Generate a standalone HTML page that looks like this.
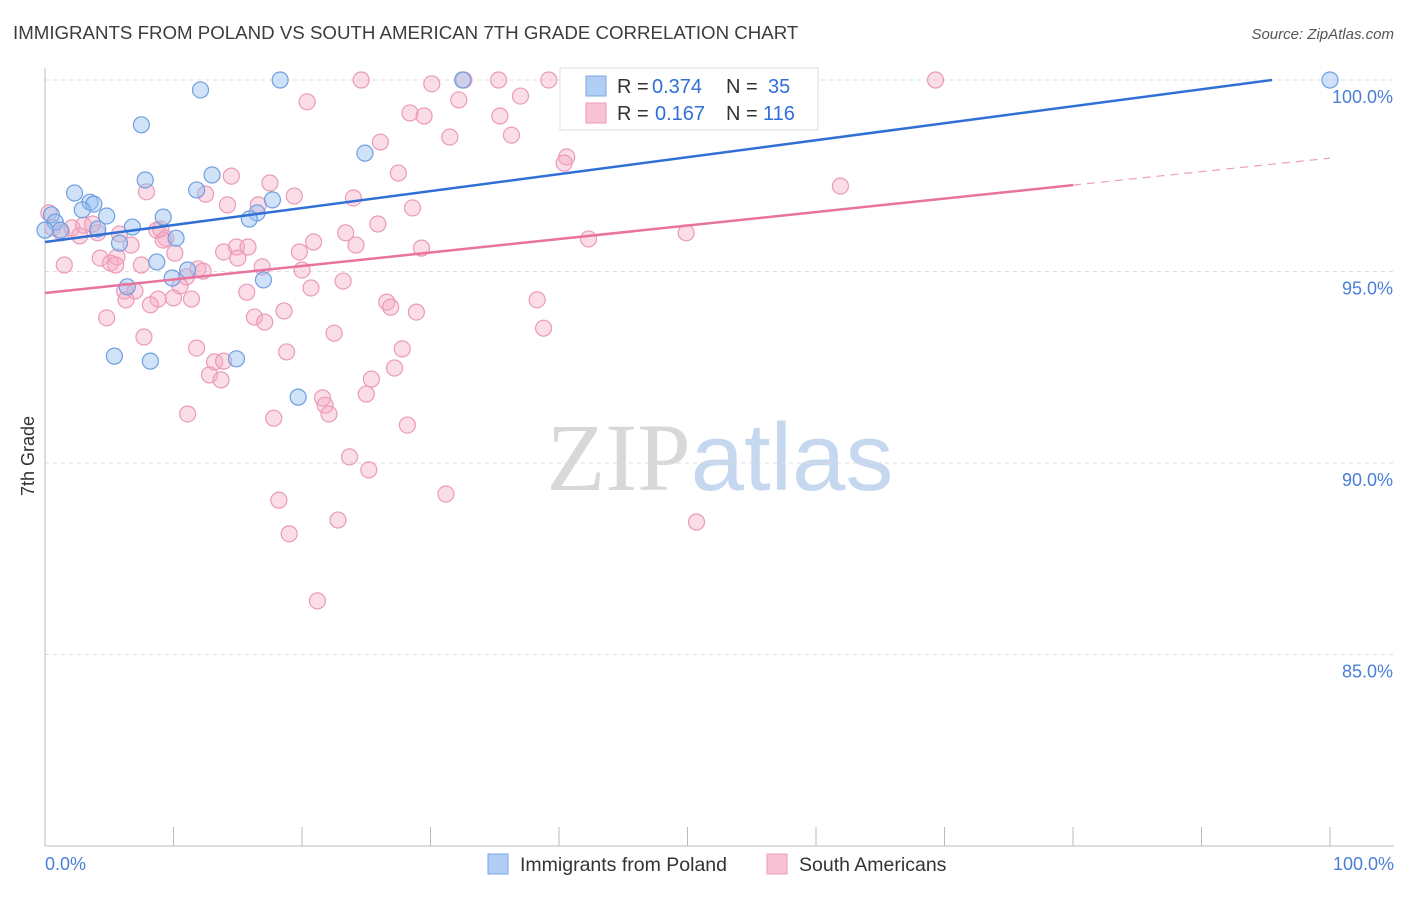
<!DOCTYPE html>
<html><head><meta charset="utf-8">
<style>
body{margin:0;background:#fff;font-family:"Liberation Sans",sans-serif;}
svg text{font-family:"Liberation Sans",sans-serif;}
</style></head>
<body>
<svg id="chart" width="1406" height="892" xmlns="http://www.w3.org/2000/svg">
<text x="13" y="39" font-size="18.7" fill="#3c3c3c">IMMIGRANTS FROM POLAND VS SOUTH AMERICAN 7TH GRADE CORRELATION CHART</text>
<text x="1394" y="39" font-size="15" fill="#555" text-anchor="end" font-style="italic">Source: ZipAtlas.com</text>
<text x="720" y="490" font-size="96" text-anchor="middle"><tspan fill="#d8d8d8" font-family="Liberation Serif">ZIP</tspan><tspan fill="#c5d8f0">atlas</tspan></text>
<g id="grid"></g>
<g id="axes"></g>
<g id="pts"></g>
<g id="lines"></g>
<text transform="translate(34,456) rotate(-90)" font-size="18" fill="#333" text-anchor="middle">7th Grade</text>
<g font-size="20">
<rect x="560" y="68" width="258" height="62" fill="#fff" stroke="#ddd"/>
<rect x="586" y="76" width="20" height="20" fill="#b0cdf3" stroke="#7aa6e3"/>
<text x="617" y="93" fill="#333">R =</text><text x="652" y="93" fill="#2f6fd6">0.374</text>
<text x="726" y="93" fill="#333">N =</text><text x="768" y="93" fill="#2f6fd6">35</text>
<rect x="586" y="103" width="20" height="20" fill="#f8c3d5" stroke="#eb9ab8"/>
<text x="617" y="120" fill="#333">R =</text><text x="655" y="120" fill="#2f6fd6">0.167</text>
<text x="726" y="120" fill="#333">N =</text><text x="763" y="120" fill="#2f6fd6">116</text>
</g>
<g>
<rect x="488" y="854" width="20" height="20" fill="#b0cdf3" stroke="#7aa6e3"/>
<text x="520" y="871" font-size="19.5" fill="#333">Immigrants from Poland</text>
<rect x="767" y="854" width="20" height="20" fill="#f8c3d5" stroke="#eb9ab8"/>
<text x="799" y="871" font-size="19.5" fill="#333">South Americans</text>
</g>
</svg>
<script>
const yTicks=[100,95,90,85];
const yTickLabels=["100.0%","95.0%","90.0%","85.0%"];
const xTickLabels=["0.0%","100.0%"];
const blueX=[18.3,32.5,100,12.1,7.5,24.9,7.8,13.0,11.8,2.3,3.5,3.8,17.7,2.9,4.8,9.2,16.5,15.9,0.5,0.8,1.2,4.1,6.8,5.8,10.2,8.7,11.1,9.9,17.0,6.4,5.4,8.2,14.9,19.7,0];
const blueY=[100,100,100,99.74,98.83,98.09,97.39,97.52,97.13,97.05,96.81,96.76,96.87,96.61,96.45,96.42,96.53,96.37,96.48,96.29,96.08,96.11,96.16,95.74,95.87,95.25,95.04,94.83,94.78,94.60,92.79,92.66,92.72,91.72,96.08];
const pinkX=[24.6,30.1,32.6,35.3,39.2,41.2,69.3,20.4,32.2,37.0,28.4,29.5,35.4,26.1,31.5,36.3,40.6,40.4,27.5,14.5,17.5,7.9,12.5,19.4,24.0,28.6,14.2,16.6,61.9,25.9,23.4,0.3,0.6,1.3,2.1,3.0,3.7,4.1,2.7,8.7,9.4,9.2,20.9,24.2,29.3,42.3,49.9,19.8,13.9,14.9,15.8,10.1,5.6,6.7,4.3,5.1,5.5,1.5,7.5,11.9,12.3,16.9,15.0,20.0,11.0,10.5,15.7,20.7,23.2,6.2,7.0,8.8,11.4,6.3,8.2,10.0,16.3,18.6,17.1,26.6,26.9,28.9,38.3,4.8,38.8,7.7,22.5,11.8,18.8,27.8,13.2,13.9,12.8,13.7,27.2,25.4,25.0,21.6,21.8,22.1,11.1,17.8,28.2,23.7,25.2,31.2,18.2,22.8,19.0,50.7,21.2,9.0,5.8];
const pinkY=[100,99.9,100,100,100,99.84,100,99.43,99.48,99.58,99.14,99.06,99.06,98.38,98.51,98.56,97.99,97.83,97.57,97.49,97.31,97.08,97.02,96.97,96.92,96.66,96.74,96.74,97.23,96.24,96.01,96.53,96.14,96.01,96.14,96.21,96.24,96.01,95.93,96.08,95.87,95.82,95.77,95.69,95.61,95.85,96.01,95.51,95.51,95.64,95.64,95.48,95.38,95.69,95.35,95.22,95.17,95.17,95.17,95.07,95.01,95.12,95.35,95.04,94.86,94.62,94.46,94.57,94.75,94.49,94.49,94.28,94.28,94.26,94.13,94.31,93.81,93.97,93.68,94.20,94.07,93.94,94.26,93.79,93.52,93.29,93.39,93.00,92.90,92.98,92.64,92.66,92.30,92.17,92.48,92.19,91.80,91.70,91.51,91.28,91.28,91.17,90.99,90.16,89.82,89.19,89.03,88.51,88.15,88.46,86.40,96.11,95.98];
const blueFit=[95.77,100.2];
const pinkFit=[94.44,97.96];

const NS="http://www.w3.org/2000/svg";
const X0=45,X1=1330,Y100=80,PX5=191.5;
const sx=v=>X0+(X1-X0)*v/100;
const sy=v=>Y100+(100-v)*PX5/5;
function mk(tag,attrs,parent){const e=document.createElementNS(NS,tag);for(const k in attrs)e.setAttribute(k,attrs[k]);parent.appendChild(e);return e;}
const grid=document.getElementById('grid'),axes=document.getElementById('axes'),pts=document.getElementById('pts'),lines=document.getElementById('lines');
yTicks.forEach((t,i)=>{
 const l=mk('line',{x1:X0,x2:1394,y1:sy(t),y2:sy(t),stroke:'#ddd','stroke-dasharray':'4,4'},grid);
 
 
 const tx=mk('text',{x:1393,y:sy(t)+23,'font-size':18,fill:'#4a7fd8','text-anchor':'end'},axes);
 tx.textContent=yTickLabels[i];
 
 
});
const ax=mk('line',{x1:X0,x2:X0,y1:68,y2:846,stroke:'#bbb'},axes);


const bx=mk('line',{x1:X0,x2:1394,y1:846,y2:846,stroke:'#bbb'},axes);


for(let i=0;i<=10;i++){
 const t=mk('line',{x1:sx(i*10),x2:sx(i*10),y1:827,y2:846,stroke:'#bbb'},axes);
 
 
}
[[0,'start',45],[100,'end',1394]].forEach((d,i)=>{
 const tx=mk('text',{x:d[2],y:870,'font-size':18,fill:'#4a7fd8','text-anchor':d[1]},axes);
 tx.textContent=xTickLabels[i];
 
 
});
pinkX.forEach((x,i)=>{
 const c=mk('circle',{cx:sx(x),cy:sy(pinkY[i]),r:8,fill:'rgba(245,170,196,0.4)',stroke:'#eb9ab8','stroke-width':1.2},pts);
 
 
});
blueX.forEach((x,i)=>{
 const c=mk('circle',{cx:sx(x),cy:sy(blueY[i]),r:8,fill:'rgba(150,190,240,0.45)',stroke:'#6f9fe0','stroke-width':1.2},pts);
 
 
});
const bxEnd=Math.min(100,(100-blueFit[0])/(blueFit[1]-blueFit[0])*100);
const bl=mk('line',{x1:sx(0),y1:sy(blueFit[0]),x2:sx(bxEnd),y2:sy(blueFit[0]+(blueFit[1]-blueFit[0])*bxEnd/100),stroke:'#2f6fd6','stroke-width':2.5},lines);


const pAt=x=>pinkFit[0]+(pinkFit[1]-pinkFit[0])*x/100;
const pl=mk('line',{x1:sx(0),y1:sy(pAt(0)),x2:sx(80),y2:sy(pAt(80)),stroke:'#e8739e','stroke-width':2.5},lines);


const pd=mk('line',{x1:sx(80),y1:sy(pAt(80)),x2:sx(100),y2:sy(pAt(100)),stroke:'#eba0bc','stroke-width':1.2,'stroke-dasharray':'8,6'},lines);


</script>
</body></html>
